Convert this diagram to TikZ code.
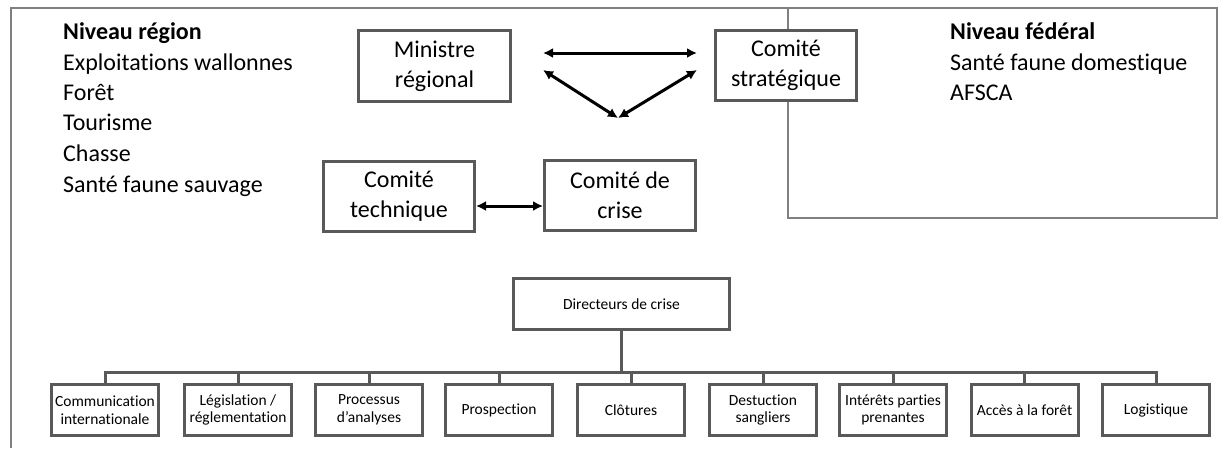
\documentclass[tikz,border=0pt]{standalone}
\usepackage{fontspec}
\setmainfont[Ligatures={NoCommon}]{Carlito}
\usetikzlibrary{arrows.meta,calc}
\definecolor{boxgray}{HTML}{595959}
\definecolor{framegray}{HTML}{808080}
\begin{document}
\begin{tikzpicture}[x=1pt,y=-1pt,
  bigbox/.style={draw=boxgray,line width=3pt,fill=white,inner sep=0pt,align=center,
    font=\fontsize{24}{30}\selectfont,minimum width=151pt,minimum height=70pt},
  smallbox/.style={draw=boxgray,line width=3pt,fill=white,inner sep=0pt,align=center,
    font=\fontsize{15.5}{17.5}\selectfont,minimum width=107pt,minimum height=51pt},
  frameline/.style={draw=framegray,line width=1.5pt},
  arr/.style={line width=3pt,{Latex[length=10pt,width=10pt]}-{Latex[length=10pt,width=10pt]}},
  tree/.style={draw=boxgray,line width=3pt},
  lbl/.style={anchor=base west,inner sep=0pt,font=\fontsize{24}{30}\selectfont},
  lblb/.style={lbl,font=\fontsize{24}{30}\selectfont\bfseries}]
\useasboundingbox (0,0) rectangle (1223,448);
% frames
\draw[frameline] (11,448) -- (11,8) -- (788,8);
\draw[frameline] (788,8) rectangle (1217,218);
% left texts
\node[lblb] (r0) at (63,39) {Niveau région};
\node[lbl] (r1) at (63,70) {Exploitations wallonnes};
\node[lbl] (r2) at (63,100) {Forêt};
\node[lbl] (r3) at (63,130) {Tourisme};
\node[lbl] (r4) at (63,161) {Chasse};
\node[lbl] (r5) at (63,192) {Santé faune sauvage};
% federal texts
\node[lblb] (f0) at (950,39) {Niveau fédéral};
\node[lbl] (f1) at (950,70) {Santé faune domestique};
\node[lbl] (f2) at (950,100) {AFSCA};
% top boxes
\node[bigbox,minimum width=152pt,minimum height=71pt] (min) at (434.5,66) {Ministre\\régional};
\node[bigbox,minimum width=141pt] (strat) at (786,65.5) {Comité\\stratégique};
\node[bigbox] (tech) at (399,196.5) {Comité\\technique};
\node[bigbox] (crise) at (620,195.5) {Comité de\\crise};
\coordinate (apex) at (618,118);
\draw[arr] ($(min.east)+(31,-13)$) -- ($(strat.west)+(-17,-12.5)$);
\draw[arr] ($(min.east)+(31,4)$) -- (apex);
\draw[arr] (apex) -- ($(strat.west)+(-17,4.5)$);
\draw[arr] ($(tech.east)+(0,9.5)$) -- ($(crise.west)+(0,10.5)$);
% crisis directors tree
\node[smallbox,minimum width=216pt] (dir) at (621.5,304) {Directeurs de crise};
\node[smallbox] (b1) at (105,410) {Communication\\internationale};
\node[smallbox] (b2) at (238,410) {Législation /\\réglementation};
\node[smallbox] (b3) at (369,410) {Processus\\d’analyses};
\node[smallbox] (b4) at (499,410) {Prospection};
\node[smallbox] (b5) at (631,410) {Clôtures};
\node[smallbox] (b6) at (763,410) {Destuction\\sangliers};
\node[smallbox] (b7) at (893,410) {Intérêts parties\\prenantes};
\node[smallbox] (b8) at (1024.5,410) {Accès à la forêt};
\node[smallbox] (b9) at (1156,410) {Logistique};
\coordinate (bus) at (0,372);
\foreach \b in {b1,b2,b3,b4,b5,b6,b7,b8,b9}
  \draw[tree] (dir.south) -- (dir.south |- bus) -| (\b.north);
\end{tikzpicture}
\end{document}
